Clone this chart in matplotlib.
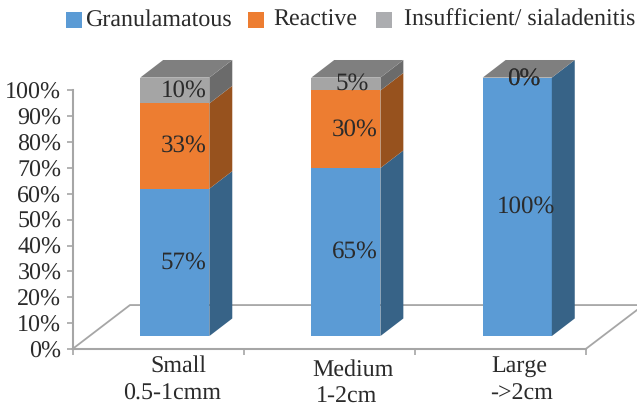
import matplotlib
matplotlib.use("Agg")
import matplotlib.pyplot as plt
from matplotlib.patches import Rectangle

W, H = 637, 411

# data
categories = ["Small\n0.5-1cmm", "Medium\n1-2cm", "Large\n->2cm"]
series_names = ["Granulamatous", "Reactive", "Insufficient/ sialadenitis"]
granulamatous = [57, 65, 100]
reactive = [33, 30, 0]
insufficient = [10, 5, 0]
y_ticks = [0, 10, 20, 30, 40, 50, 60, 70, 80, 90, 100]

# colours: front, side
front_cols = ["#5B9BD5", "#ED7D31", "#A5A5A5"]
side_cols = ["#376387", "#97521E", "#6B6B6B"]
legend_cols = ["#5B9BD5", "#ED7D31", "#ACADB0"]
top_col = "#7F7F7F"
line_col = "#A6A6A6"
txt_col = "#2B2B2B"

plt.rcParams["font.family"] = ["Liberation Serif", "DejaVu Serif"]
plt.rcParams["font.size"] = 17.2
plt.rcParams["text.hinting"] = "no_hinting"
plt.rcParams["text.hinting_factor"] = 1

fig = plt.figure(figsize=(W / 100, H / 100), dpi=100)
ax = fig.add_axes([72.5 / W, (H - 349) / H, (585.7 - 72.5) / W, (349 - 90.5) / H])
ax.set_xlim(0, 3)
ax.set_ylim(0, 100)

# pseudo 3d settings in data units
bar_w = 0.404
dx = 0.134
dy = 6.8
base = 5
centers = [0.598, 1.598, 2.6]

# floor
ax.plot([0, 0.336, 3.3], [0, 17, 17], color=line_col, lw=1.3, clip_on=False, zorder=1)
ax.plot([3, 3.3], [0, 15.1], color=line_col, lw=1.3, clip_on=False, zorder=1)

for i, c in enumerate(centers):
    x0 = c - bar_w / 2
    x1 = c + bar_w / 2
    bottom = base
    vals = [granulamatous[i], reactive[i], insufficient[i]]
    for v, fc, sc in zip(vals, front_cols, side_cols):
        if v == 0:
            continue
        ax.bar(c, v, bar_w, bottom=bottom, color=fc, zorder=3, clip_on=False)
        ax.fill([x1, x1 + dx, x1 + dx, x1],
                [bottom, bottom + dy, bottom + v + dy, bottom + v],
                color=sc, lw=0, zorder=3, clip_on=False)
        bottom += v
    ax.fill([x0, x0 + dx, x1 + dx, x1], [bottom, bottom + dy, bottom + dy, bottom],
            color=top_col, lw=0, zorder=3, clip_on=False)

    # labels, zero ones stack up on the top edge
    bottom = base
    for v in vals:
        off = 0.035 if v <= 5 else 0.052
        lift = -0.3 if v == 0 else 0
        ax.text(c + off, bottom + v / 2 + lift, f"{v}%", ha="center", va="center",
                color=txt_col, fontsize=17.7, zorder=5)
        bottom += v

# category labels, two lines each, a bit off centre like the original
label_x = [[178, 172], [353, 347], [519, 522]]
label_y = [[366, 394], [370, 397], [366, 394]]
for cat, xs, ys in zip(categories, label_x, label_y):
    for line, xp, yp in zip(cat.split("\n"), xs, ys):
        fig.text(xp / W, 1 - yp / H, line, ha="center", va="center", color=txt_col)

ax.set_yticks(y_ticks)
ax.set_yticklabels([f"{t}%" for t in y_ticks], color=txt_col, fontsize=17.4)
ax.set_xticks([0, 1, 2, 3])
ax.set_xticklabels([])
ax.tick_params(axis="y", length=4, width=1.2, color=line_col, pad=4)
ax.tick_params(axis="x", length=4, width=1.2, color=line_col)
for s in ["top", "right"]:
    ax.spines[s].set_visible(False)
for s in ["left", "bottom"]:
    ax.spines[s].set_color(line_col)
    ax.spines[s].set_linewidth(1.5)

# legend by hand, gaps in the original are not even
box_x = [66, 248, 376]
text_x = [85.5, 273, 403.5]
for name, col, bx, tx in zip(series_names, legend_cols, box_x, text_x):
    fig.add_artist(Rectangle((bx / W, 1 - 28 / H), 16 / W, 16 / H, color=col, lw=0,
                             transform=fig.transFigure))
    fig.text(tx / W, 1 - 20 / H, name, ha="left", va="center", color=txt_col)

fig.savefig("out.png", dpi=100)
